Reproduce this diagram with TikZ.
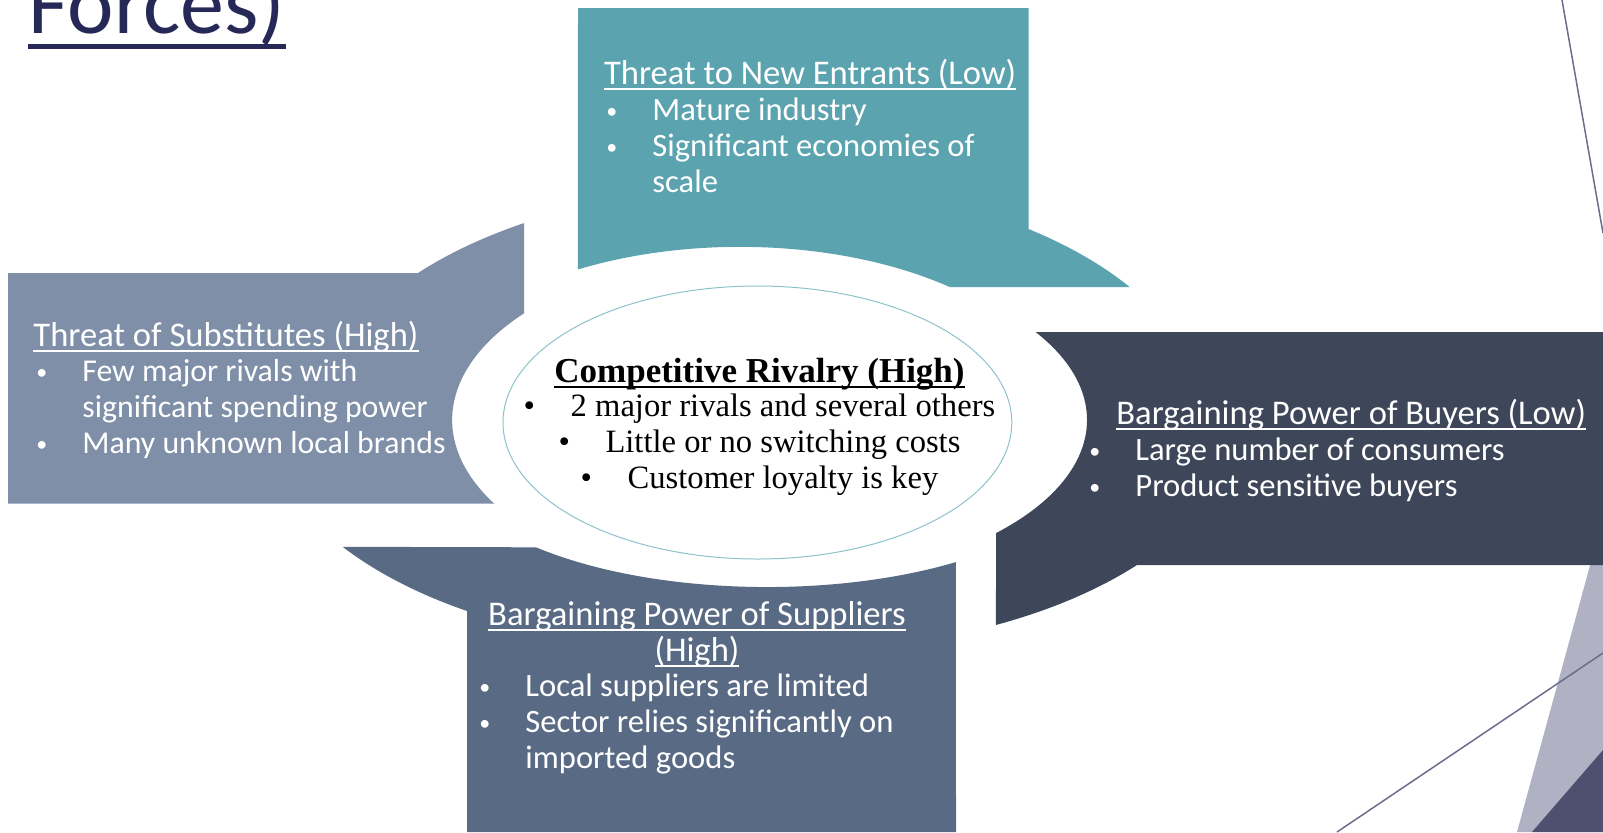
\documentclass[tikz,border=0pt]{standalone}
\usepackage{fontspec}
\setmainfont{Liberation Serif}
\newfontfamily\calib{Carlito}
\definecolor{sarcelle}{HTML}{5BA3AF}
\definecolor{ardoise}{HTML}{7F8FA8}
\definecolor{nuit}{HTML}{3D4759}
\definecolor{acier}{HTML}{596A85}
\definecolor{marine}{HTML}{262957}
\definecolor{bordure}{HTML}{8CC3CB}
\definecolor{lilas}{HTML}{B0B2C4}
\definecolor{prune}{HTML}{4F5070}
\definecolor{gristrait}{HTML}{6B6D8A}
\newsavebox{\ulboite}
\newcommand{\ultext}[3]{\sbox{\ulboite}{#3}\rlap{\rule[-#1]{\wd\ulboite}{#2}}\usebox{\ulboite}}
\newcommand{\puce}{\makebox[24.5pt][l]{\hspace{1.5pt}\raisebox{1pt}{\fontsize{11pt}{11pt}\selectfont •}}}
\newcommand{\pucer}{\makebox[23.5pt][l]{•}}
\begin{document}
\begin{tikzpicture}[x=0.5pt, y=-0.5pt]
\tikzset{titre/.style={anchor=base west, inner sep=0pt, text=white, font=\calib\fontsize{17.3pt}{18pt}\selectfont}, liste/.style={titre, align=left, font=\calib\fontsize{16.3pt}{18pt}\selectfont}, ligne/.style={draw=gristrait, line width=0.75pt}};

\useasboundingbox (0,0) rectangle (1603,832);

\fill[lilas] (1597,540) -- (1517,832) -- (1603,832) -- (1603,540) -- cycle;
\fill[prune] (1603,750) -- (1532,832) -- (1603,832) -- cycle;
\draw[ligne] (1337,832) -- (1603,653);
\draw[ligne] (1562,0) -- (1603,233);

\fill[sarcelle] (578,8) -- (1028.5,8) -- (1028.5,229) arc[start angle=52.8, end angle=33.7, x radius=222.5pt, y radius=120pt] -- (949.7,287) arc[start angle=49.8, end angle=119.9, x radius=162.5pt, y radius=85pt] -- cycle;
\fill[ardoise] (8,273) -- (418,273) arc[start angle=140.2, end angle=122, x radius=222.5pt, y radius=120pt] -- (524.2,313.2) arc[start angle=141.1, end angle=209.5, x radius=162.5pt, y radius=85pt] -- (8,503.7) -- cycle;
\fill[nuit] (1035.5,332) -- (1603,332) -- (1603,565) -- (1137,565) arc[start angle=-40.1, end angle=-63.4, x radius=222.5pt, y radius=120pt] -- (996.2,533) arc[start angle=-43.9, end angle=32.7, x radius=162.5pt, y radius=81.5pt] -- cycle;
\fill[acier] (467,832) -- (467,611) arc[start angle=-122.6, end angle=-144.9, x radius=222.5pt, y radius=120pt] -- (536,547.3) arc[start angle=-135.3, end angle=-54.45, x radius=162.5pt, y radius=67pt] -- (956,832) -- cycle;

\draw[bordure, line width=0.5pt] (757.4,422.5) ellipse [x radius=127.2pt, y radius=68.25pt];

\node[anchor=base west, inner sep=0pt, text=marine, font=\calib\fontsize{44pt}{44pt}\selectfont] (titre) at (28,33) {\ultext{7.8pt}{2.3pt}{Forces)}};

\node[titre] (entrants) at (603.6,84) {\ultext{3pt}{1pt}{Threat to New Entrants (Low)}};
\node[liste] (entrantsliste) at (603,192) {\puce Mature industry\\\puce Significant economies of\\\hspace*{24.5pt}scale};

\node[titre] (substituts) at (33,346) {\ultext{3pt}{1pt}{Threat of Substitutes (High)}};
\node[liste, font=\calib\fontsize{15.9pt}{18pt}\selectfont] (substitutsliste) at (33,453) {\puce Few major rivals with\\\hspace*{24.5pt}significant spending power\\\puce Many unknown local brands};

\node[titre] (acheteurs) at (1116,424) {\ultext{3pt}{1pt}{Bargaining Power of Buyers (Low)}};
\node[liste] (acheteursliste) at (1086,496) {\puce Large number of consumers\\\puce Product sensitive buyers};

\node[titre, anchor=base, align=center] (fournisseurs) at (697,661) {\ultext{3pt}{1pt}{Bargaining Power of Suppliers}\\\ultext{3pt}{1pt}{(High)}};
\node[liste] (fournisseursliste) at (476,768) {\puce Local suppliers are limited\\\puce Sector relies significantly on\\\hspace*{24.5pt}imported goods};

\node[anchor=base, align=center, inner sep=0pt, font=\fontsize{16.3pt}{18pt}\selectfont] (rivalite) at (759.5,488) {{\fontsize{17.5pt}{18pt}\selectfont\bfseries\ultext{3pt}{1pt}{Competitive Rivalry (High)}}\\[-1pt]\pucer 2 major rivals and several others\\\pucer Little or no switching costs\\\pucer Customer loyalty is key};
\end{tikzpicture}
\end{document}
